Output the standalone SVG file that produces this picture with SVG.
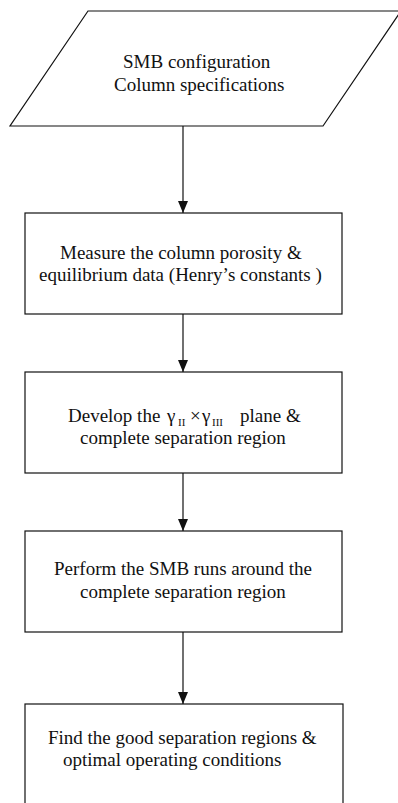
<svg xmlns="http://www.w3.org/2000/svg" width="398" height="803" viewBox="0 0 398 803">
<style>
.shape{fill:#fff;stroke:#111;stroke-width:1.2}
.t{font-family:"Liberation Serif","Times New Roman",serif;font-size:19px;fill:#111}
.sub{font-size:11px}
.conn{stroke:#111;stroke-width:1.2;fill:none}
</style>
<defs>
<marker id="arr" markerWidth="12" markerHeight="10" refX="12" refY="5" orient="auto" markerUnits="userSpaceOnUse" viewBox="0 0 12 10">
<path d="M0,0 L12,5 L0,10 Z" fill="#111"/>
</marker>
</defs>
<rect width="398" height="803" fill="#fff"/>
<g id="input">
<polygon class="shape" points="88,11 401,11 323,126 10,126"/>
<text class="t" x="123" y="68">SMB configuration</text>
<text class="t" x="114" y="91">Column specifications</text>
</g>
<g id="measure">
<rect class="shape" x="25" y="213" width="317" height="101"/>
<text class="t" x="60" y="259">Measure the column porosity &amp;</text>
<text class="t" x="39" y="281">equilibrium data (Henry’s constants )</text>
</g>
<g id="develop">
<rect class="shape" x="25" y="372" width="317" height="101"/>
<text class="t" y="422"><tspan x="68">Develop the</tspan><tspan x="167">γ</tspan><tspan class="sub" x="178" dy="4">II</tspan><tspan x="190" dy="-4">×</tspan><tspan x="202">γ</tspan><tspan class="sub" x="212" dy="4">III</tspan><tspan x="240" dy="-4">plane &amp;</tspan></text>
<text class="t" x="80" y="444">complete separation region</text>
</g>
<g id="perform">
<rect class="shape" x="25" y="531" width="317" height="101"/>
<text class="t" x="54" y="575">Perform the SMB runs around the</text>
<text class="t" x="80" y="598">complete separation region</text>
</g>
<g id="find">
<rect class="shape" x="25" y="704" width="318" height="110"/>
<text class="t" x="48" y="744">Find the good separation regions &amp;</text>
<text class="t" x="63" y="766">optimal operating conditions</text>
</g>
<g id="connectors">
<line class="conn" x1="183" y1="126" x2="183" y2="213" marker-end="url(#arr)"/>
<line class="conn" x1="183" y1="314" x2="183" y2="372" marker-end="url(#arr)"/>
<line class="conn" x1="183" y1="473" x2="183" y2="531" marker-end="url(#arr)"/>
<line class="conn" x1="183" y1="632" x2="183" y2="704" marker-end="url(#arr)"/>
</g>
</svg>
